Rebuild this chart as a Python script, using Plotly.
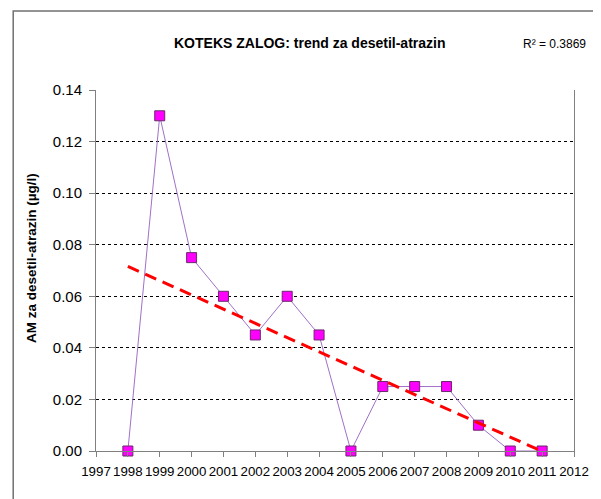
import numpy as np
import plotly.graph_objects as go

years = [1998, 1999, 2000, 2001, 2002, 2003, 2004, 2005, 2006, 2007, 2008, 2009, 2010, 2011]
values = [0.0, 0.13, 0.075, 0.06, 0.045, 0.06, 0.045, 0.0, 0.025, 0.025, 0.025, 0.01, 0.0, 0.0]
y_ticks = [0.0, 0.02, 0.04, 0.06, 0.08, 0.10, 0.12, 0.14]
x_ticks = list(range(1997, 2013))
title_text = "<b>KOTEKS ZALOG: trend za desetil-atrazin</b>"
r2_text = "R² = 0.3869"
y_title = "<b>AM za desetil-atrazin (µg/l)</b>"

# linear trend fitted to the data
slope, intercept = np.polyfit(years, values, 1)
trend_x = [years[0], years[-1]]
trend_y = [slope * x + intercept for x in trend_x]

fig = go.Figure()
fig.add_trace(go.Scatter(
    x=years, y=values, mode="lines+markers",
    line=dict(color="#A070C8", width=1),
    marker=dict(symbol="square", size=10, color="#FF00FF",
                line=dict(color="#6A2A6A", width=1)),
    showlegend=False, cliponaxis=False,
))
fig.add_trace(go.Scatter(
    x=trend_x, y=trend_y, mode="lines",
    line=dict(color="#FF0000", width=3, dash="12px,7px"),
    showlegend=False,
))

OFF = 8  # page body margin
W, H = 601 - OFF, 499 - OFF
L, R, T, B = 96 - OFF, 20, 90 - OFF, 48
pw, ph = W - L - R, H - T - B

def px2paper_x(px):
    return (px - OFF - L) / pw

def px2paper_y(py):
    return (H - B - (py - OFF)) / ph

FONT = "Liberation Sans, Arial"

fig.add_shape(type="rect", xref="paper", yref="paper",
              x0=px2paper_x(12), x1=px2paper_x(640),
              y0=px2paper_y(540), y1=px2paper_y(11),
              line=dict(color="#707070", width=1.5), layer="below")

fig.add_annotation(text=title_text, xref="paper", yref="paper",
                   x=px2paper_x(313), y=px2paper_y(43), showarrow=False,
                   font=dict(family=FONT, size=14, color="black"),
                   xanchor="center", yanchor="middle")
fig.add_annotation(text=r2_text, xref="paper", yref="paper",
                   x=px2paper_x(527), y=px2paper_y(44), showarrow=False,
                   font=dict(family=FONT, size=12, color="black"),
                   xanchor="left", yanchor="middle")
fig.add_annotation(text=y_title, xref="paper", yref="paper",
                   x=px2paper_x(30), y=px2paper_y(258), showarrow=False,
                   textangle=-90,
                   font=dict(family=FONT, size=13.5, color="black"),
                   xanchor="center", yanchor="middle")

fig.update_layout(
    width=W, height=H,
    margin=dict(l=L, r=R, t=T, b=B, pad=0),
    paper_bgcolor="white", plot_bgcolor="white",
    font=dict(family=FONT, color="black"),
    xaxis=dict(range=[1997, 2012], tickvals=x_ticks, ticktext=[str(x) for x in x_ticks],
               showgrid=False, zeroline=False, showline=True, linecolor="#808080",
               linewidth=1, ticks="outside", ticklen=5, tickcolor="#808080",
               ticklabelstandoff=3,
               tickangle=0, tickfont=dict(family=FONT, size=13.3), mirror=False),
    yaxis=dict(range=[0, 0.14], tickvals=y_ticks, ticktext=[f"{v:.2f}" for v in y_ticks],
               showgrid=True, gridcolor="black", griddash="dot", gridwidth=1,
               zeroline=False, showline=True, linecolor="#808080", linewidth=1,
               ticks="outside", ticklen=6, tickcolor="#808080", mirror=True,
               ticklabelstandoff=4,
               tickfont=dict(family=FONT, size=15)),
)

fig.write_html("out.html")
